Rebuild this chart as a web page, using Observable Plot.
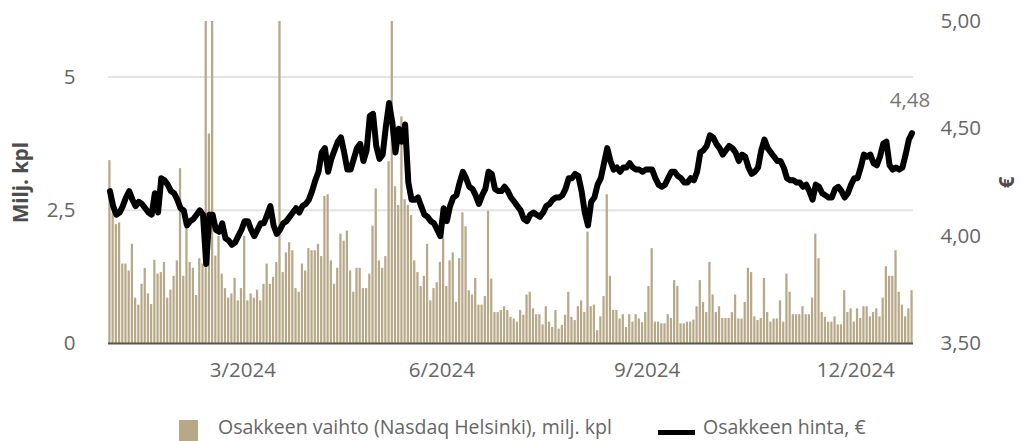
<!DOCTYPE html>
<html>
<head>
<meta charset="utf-8">
<script src="https://cdn.jsdelivr.net/npm/d3@7"></script>
<script src="https://cdn.jsdelivr.net/npm/@observablehq/plot@0.6"></script>
<style>
  html, body { margin: 0; padding: 0; background: #fff; }
  body { width: 1022px; height: 441px; overflow: hidden; position: relative; font-family: 'Open Sans', sans-serif; }
  #chart svg { display: block; }
  #chart [aria-label="y-axis label"] text { font-weight: 700; fill: #4d4d4d; }
  .legend { position: absolute; top: 400px; left: 0; width: 1022px; height: 41px; color: #666; font-size: 19.5px; }
  .item { position: absolute; top: 16px; height: 22px; display: flex; align-items: flex-start; white-space: nowrap; line-height: 22px; }
  .sw-bar { width: 19px; height: 21px; background: #b7a888; margin-right: 20px; margin-top: 4px; }
  .sw-line { width: 37px; height: 5px; background: #000; margin-right: 8px; margin-top: 14px; }
</style>
</head>
<body>
<div id="chart"></div>
<div class="legend">
  <div class="item" style="left:179px"><span class="sw-bar"></span><span>Osakkeen vaihto (Nasdaq Helsinki), milj. kpl</span></div>
  <div class="item" style="left:658px"><span class="sw-line"></span><span>Osakkeen hinta, €</span></div>
</div>
<script>
// Trading days of Nasdaq Helsinki 2024 (weekdays minus exchange holidays)
const holidays = ["2024-01-01","2024-03-29","2024-04-01","2024-05-01","2024-05-09","2024-06-21","2024-12-06","2024-12-24","2024-12-25","2024-12-26","2024-12-31"];
const tickMonths = [3, 6, 9, 12];
const leftTicks = [0, 2.5, 5];
const rightTicks = [3.5, 4.0, 4.5, 5.0];

// Daily volume, million shares
const volume = [
  3.43,2.45,2.23,2.26,1.49,1.49,1.36,1.86,0.85,0.72,1.11,1.41,0.93,0.73,1.56,1.30,1.33,1.52,0.85,1.00,1.26,1.55,3.28,1.26,2.19,1.52,1.41,0.90,
  1.59,1.49,7.50,3.93,7.00,1.64,2.01,1.30,1.03,0.85,0.93,1.22,0.80,1.03,2.01,0.80,0.93,0.85,1.00,0.80,1.11,1.49,1.11,1.24,1.52,6.80,1.33,1.70,
  1.89,1.74,1.03,0.96,1.49,1.36,1.78,1.74,1.74,1.86,1.63,2.76,2.79,1.55,1.11,1.41,2.05,1.92,2.11,1.36,0.96,1.41,1.41,1.03,1.03,1.30,2.20,2.90,
  1.55,1.41,1.63,3.41,7.00,2.94,2.59,4.25,2.70,2.59,2.40,1.55,1.33,1.07,1.26,1.86,0.80,1.03,1.14,1.52,1.98,1.07,1.55,1.70,0.77,1.59,2.45,2.19,
  0.99,0.91,1.22,0.72,0.72,0.88,2.48,1.21,0.58,0.58,0.62,0.69,0.62,0.49,0.46,0.40,0.62,0.53,0.91,0.96,0.65,0.54,0.54,0.35,0.69,0.40,0.30,0.62,
  0.27,0.34,0.53,0.96,0.49,0.43,0.69,0.80,0.58,2.09,0.69,0.72,0.24,0.50,0.88,2.79,1.26,0.62,0.62,0.46,0.54,0.30,0.54,0.40,0.54,0.46,0.39,0.58,
  1.07,1.78,0.40,0.40,0.37,0.37,0.54,0.47,1.18,1.07,0.37,0.37,0.40,0.40,0.44,0.69,1.18,0.77,0.58,1.52,0.91,0.58,0.69,0.47,0.47,0.47,0.58,0.91,
  0.46,0.46,0.77,1.41,1.33,0.50,0.43,0.47,1.22,0.58,0.40,0.46,0.46,0.80,0.40,1.30,0.96,0.54,0.54,0.54,0.69,0.54,0.54,0.85,2.05,1.59,0.58,0.49,
  0.40,0.40,0.50,0.35,0.35,0.99,0.58,0.65,0.40,0.65,0.47,0.69,0.69,0.50,0.58,0.65,0.50,0.85,1.44,1.26,1.26,1.74,0.96,0.72,0.50,0.65,0.99
];

// Daily closing price, EUR
const price = [
  4.21,4.14,4.10,4.11,4.14,4.18,4.21,4.17,4.14,4.16,4.15,4.13,4.11,4.10,4.20,4.11,4.27,4.26,4.24,4.21,4.20,4.17,4.13,4.12,4.05,4.07,4.08,4.10,
  4.12,4.10,3.87,4.10,4.10,4.03,4.02,4.06,3.99,3.98,3.96,3.97,4.00,4.03,4.07,4.07,4.03,4.00,4.03,4.06,4.06,4.10,4.14,4.05,4.01,4.03,4.06,4.07,
  4.09,4.11,4.13,4.11,4.14,4.15,4.17,4.21,4.26,4.30,4.39,4.41,4.30,4.36,4.40,4.44,4.46,4.39,4.31,4.31,4.36,4.41,4.43,4.35,4.40,4.56,4.57,4.42,
  4.36,4.38,4.51,4.62,4.53,4.39,4.50,4.44,4.52,4.25,4.17,4.17,4.18,4.14,4.10,4.09,4.07,4.06,4.03,4.00,4.13,4.07,4.14,4.18,4.19,4.25,4.30,4.27,
  4.23,4.22,4.19,4.15,4.19,4.22,4.30,4.29,4.22,4.21,4.21,4.23,4.21,4.18,4.16,4.14,4.12,4.08,4.07,4.10,4.11,4.10,4.09,4.11,4.14,4.15,4.17,4.18,
  4.18,4.19,4.22,4.27,4.27,4.29,4.28,4.21,4.11,4.05,4.16,4.18,4.24,4.27,4.34,4.41,4.35,4.31,4.32,4.30,4.32,4.32,4.34,4.32,4.31,4.31,4.30,4.31,
  4.31,4.31,4.27,4.24,4.23,4.24,4.27,4.30,4.30,4.28,4.27,4.25,4.25,4.27,4.26,4.30,4.39,4.40,4.42,4.47,4.46,4.43,4.41,4.38,4.40,4.42,4.41,4.39,
  4.35,4.38,4.37,4.32,4.29,4.30,4.32,4.40,4.45,4.41,4.39,4.37,4.35,4.35,4.32,4.27,4.26,4.26,4.25,4.25,4.23,4.24,4.21,4.17,4.24,4.23,4.20,4.19,
  4.18,4.18,4.22,4.23,4.21,4.18,4.20,4.24,4.27,4.27,4.32,4.38,4.37,4.38,4.34,4.33,4.37,4.43,4.44,4.33,4.31,4.32,4.31,4.32,4.38,4.45,4.48
];

const dates = [];
for (let t = Date.UTC(2024, 0, 1); t <= Date.UTC(2024, 11, 31); t += 864e5) {
  const d = new Date(t);
  const wd = d.getUTCDay();
  const s = d.toISOString().slice(0, 10);
  if (wd !== 0 && wd !== 6 && !holidays.includes(s)) dates.push(s);
}

const VMAX = 6.04;
const P0 = rightTicks[0], P1 = rightTicks[rightTicks.length - 1];
const toY = p => (p - P0) / (P1 - P0) * VMAX;
const fromY = v => P0 + v / VMAX * (P1 - P0);
const comma = s => String(s).replace(".", ",");

const data = dates.map((date, i) => ({date, vol: volume[i], price: price[i]}));
const xTicks = tickMonths.map(m => dates.find(d => +d.slice(5, 7) === m));

const chart = Plot.plot({
  width: 1022,
  height: 400,
  marginTop: 21,
  marginBottom: 57,
  marginLeft: 108,
  marginRight: 109,
  style: {fontFamily: "'Open Sans', sans-serif", fontSize: "20.5px", color: "#666", background: "#fff"},
  x: {type: "band", domain: dates, paddingInner: 0.3, paddingOuter: 0.1, axis: null},
  y: {domain: [0, VMAX], clamp: true, axis: null},
  marks: [
    Plot.gridY([2.5, 5], {stroke: "#e3e3e3", strokeWidth: 2, strokeOpacity: 1}),
    Plot.barY(data, {x: "date", y: "vol", fill: "#b7a888"}),
    Plot.ruleY([0], {stroke: "#555", strokeWidth: 2}),
    Plot.lineY(data, {x: "date", y: d => toY(d.price), stroke: "#000", strokeWidth: 6, strokeLinejoin: "round", strokeLinecap: "round"}),
    Plot.text(data.slice(-1), {x: "date", y: d => toY(d.price), text: d => comma(d.price.toFixed(2)), dy: -33, dx: -2, fill: "#777", fontSize: 20.5}),
    Plot.axisX(xTicks, {tickSize: 0, tickPadding: 19, dx: -5, tickFormat: d => `${+d.slice(5, 7)}/${d.slice(0, 4)}`, fontSize: 20.5, label: null}),
    Plot.axisY(leftTicks, {anchor: "left", tickSize: 0, tickPadding: 33, tickFormat: v => comma(v), fontSize: 20.5, label: "Milj. kpl", labelAnchor: "center", labelOffset: 95, labelArrow: false}),
    Plot.axisY(rightTicks.map(toY), {anchor: "right", tickSize: 0, tickPadding: 27, tickFormat: v => comma(fromY(v).toFixed(2)), fontSize: 20.5, label: "€", labelAnchor: "center", labelOffset: 100, labelArrow: false})
  ]
});
document.getElementById("chart").appendChild(chart);
</script>
</body>
</html>
